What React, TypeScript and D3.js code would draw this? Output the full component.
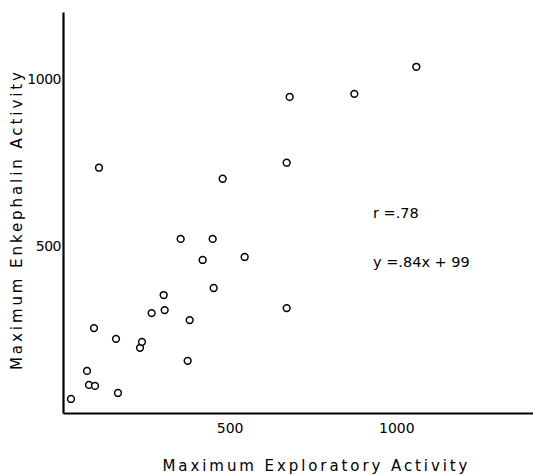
import React, { useRef, useEffect } from "react";
import { select, scaleLinear, axisLeft, axisBottom, format } from "d3";

// maximum exploratory activity (x) vs maximum enkephalin activity (y)
const exploratory = [
  24, 72, 78, 96, 93, 165, 159, 231, 237, 266, 305, 302, 380, 374, 353, 449,
  419, 545, 452, 671, 108, 479, 1060, 680, 874, 671,
];
const enkephalin = [
  42, 126, 84, 81, 254, 60, 222, 195, 213, 299, 308, 353, 278, 156, 521, 521,
  458, 467, 374, 314, 734, 701, 1036, 946, 955, 749,
];
const tickValues = [500, 1000];
const annotations = ["r =.78", "y =.84x + 99"];

const W = 533;
const H = 475;
const font = "'DejaVu Sans', sans-serif";

const App = () => {
  const ref = useRef<SVGSVGElement>(null);

  useEffect(() => {
    const svg = select(ref.current);
    svg.selectAll("*").remove();

    const x = scaleLinear().domain([0, 1410]).range([63, 533]);
    const y = scaleLinear().domain([0, 1200]).range([413, 12]);
    const fmt = format("d");

    const yAxis = svg
      .append("g")
      .attr("transform", `translate(63,0)`)
      .call(
        axisLeft(y).tickValues(tickValues).tickFormat(fmt).tickSize(0).tickSizeOuter(0).tickPadding(2)
      );
    const xAxis = svg
      .append("g")
      .attr("transform", `translate(0,413)`)
      .call(
        axisBottom(x).tickValues(tickValues).tickFormat(fmt).tickSize(0).tickSizeOuter(0).tickPadding(10)
      );

    [xAxis, yAxis].forEach((g) => {
      g.select(".domain").attr("stroke", "#000").attr("stroke-width", 2.2);
      g.selectAll("text")
        .attr("font-family", font)
        .attr("font-size", 14)
        .attr("fill", "#000");
    });
    yAxis.selectAll("text").attr("letter-spacing", -0.5);

    // axis titles
    svg
      .append("text")
      .attr("x", 315)
      .attr("y", 471)
      .attr("text-anchor", "middle")
      .attr("font-family", font)
      .attr("font-size", 15)
      .attr("textLength", 305)
      .attr("lengthAdjust", "spacing")
      .text("Maximum Exploratory Activity");

    svg
      .append("text")
      .attr("transform", "translate(22,221) rotate(-90)")
      .attr("text-anchor", "middle")
      .attr("font-family", font)
      .attr("font-size", 15)
      .attr("textLength", 298)
      .attr("lengthAdjust", "spacing")
      .text("Maximum Enkephalin Activity");

    // r and regression equation
    svg
      .selectAll("text.note")
      .data(annotations)
      .enter()
      .append("text")
      .attr("class", "note")
      .attr("x", 373)
      .attr("y", (d, i) => 218 + i * 49)
      .attr("font-family", font)
      .attr("font-size", 14.5)
      .text((d) => d);

    svg
      .selectAll("circle")
      .data(exploratory)
      .enter()
      .append("circle")
      .attr("cx", (d) => x(d))
      .attr("cy", (d, i) => y(enkephalin[i]))
      .attr("r", 3.4)
      .attr("fill", "#fff")
      .attr("stroke", "#000")
      .attr("stroke-width", 1.5);
  }, []);

  return (
    <svg
      ref={ref}
      width={W}
      height={H}
      style={{ position: "absolute", left: 0, top: 0, background: "#fff" }}
    />
  );
};

export default App;
